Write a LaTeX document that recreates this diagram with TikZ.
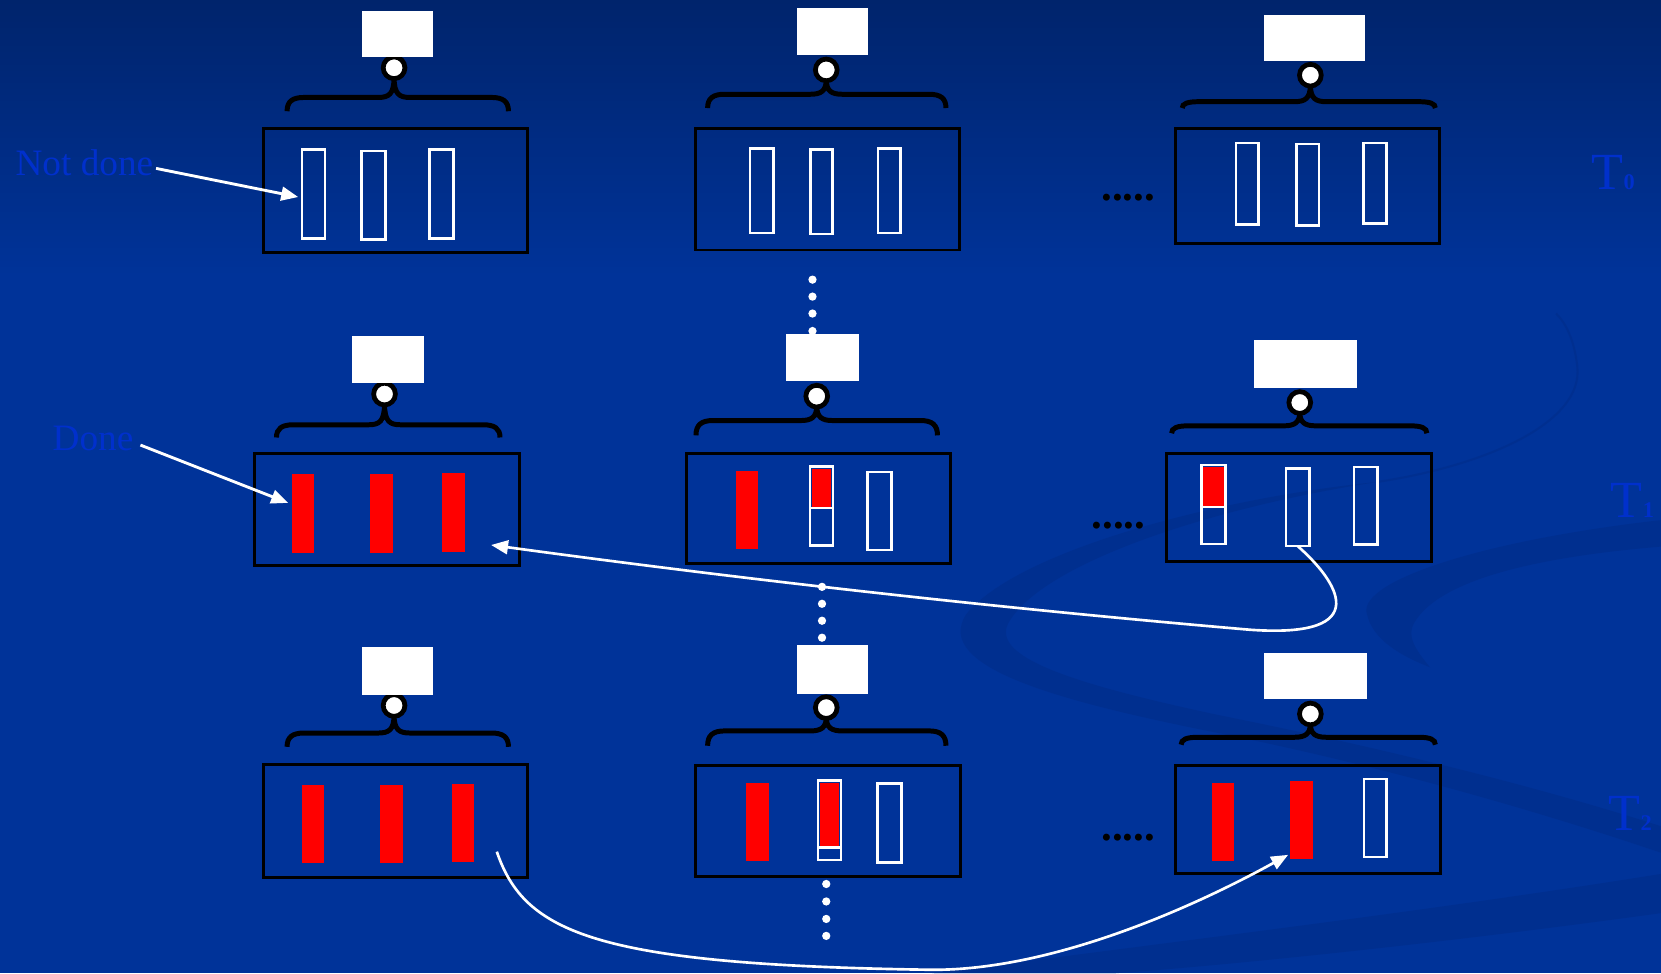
\documentclass[tikz,border=0pt]{standalone}
\usepackage{fontspec}
\setmainfont{Liberation Serif}
\usetikzlibrary{fit,arrows.meta}
\definecolor{bgblue}{RGB}{0,51,153}
\definecolor{bgtop}{RGB}{0,36,108}
\definecolor{swirlc}{RGB}{0,44,136}
\definecolor{labelblue}{RGB}{0,48,204}

% curly brace under a tag: left x, right x, cusp x, bar y, end drop, ring y
\newcommand\brc[6]{%
  \draw[brc] (#1,#4+#5) .. controls (#1,#4+0.3*#5) and (#1+5,#4) .. (#1+16,#4)
    -- (#3-15,#4) .. controls (#3-5,#4) and (#3,#4-3) .. (#3,#6+9)
    .. controls (#3,#4-3) and (#3+5,#4) .. (#3+15,#4)
    -- (#2-16,#4) .. controls (#2-5,#4) and (#2,#4+0.3*#5) .. (#2,#4+#5);}

% partly finished slot: name, x1, y1, x2, y2, level of the red part
\newcommand\halfslot[6]{%
  \node[slot, fit={(#2,#3) (#4,#5)}] (#1) {};
  \fill[red] (#2+2,#3+2) rectangle (#4-2,#6-1);
  \draw[white, line width=0.024cm] (#2,#6) -- (#4,#6);}

\begin{document}
\begin{tikzpicture}[x=0.01cm,y=-0.01cm,
  box/.style={draw=black,line width=0.028cm,inner sep=0pt,outer sep=0pt},
  slot/.style={draw=white,line width=0.024cm,inner sep=0pt,outer sep=0pt},
  done/.style={fill=red,inner sep=0pt,outer sep=0pt},
  tag/.style={fill=white,inner sep=0pt},
  ring/.style={circle,draw=black,fill=white,line width=0.045cm,minimum size=0.205cm,inner sep=0pt},
  brc/.style={draw=black,line width=0.047cm},
  dot/.style={circle,fill=white,inner sep=0pt,minimum size=0.078cm},
  conn/.style={draw=white,line width=0.027cm,-{Triangle[length=0.16cm,width=0.13cm]}},
  ell/.style={font=\fontsize{11.5}{13}\selectfont\bfseries,text=black,anchor=base,inner sep=0pt},
  note/.style={font=\fontsize{10}{12}\selectfont,text=labelblue,anchor=base west,inner sep=0pt},
  tlab/.style={font=\fontsize{14}{16}\selectfont,text=labelblue,anchor=base west,inner sep=0pt},
  swirl/.style={fill=swirlc,opacity=0.55}]

% background
\fill[bgblue] (0,0) rectangle (1568,919);
\shade[top color=bgtop,bottom color=bgblue] (0,0) rectangle (1568,260);
\useasboundingbox (0,0) rectangle (1568,919);

% faint swirls of the backdrop
\fill[swirl] (1300,455) .. controls (1150,470) and (960,520) .. (912,580)
  .. controls (880,630) and (1000,662) .. (1150,692)
  .. controls (1300,722) and (1450,765) .. (1568,805) -- (1568,780)
  .. controls (1450,742) and (1300,705) .. (1150,675)
  .. controls (1010,645) and (935,620) .. (952,588)
  .. controls (985,530) and (1150,478) .. (1300,455) -- cycle;
\draw[swirlc, opacity=0.5, line width=0.02cm] (1300,455)
  .. controls (1400,440) and (1495,400) .. (1489,346)
  .. controls (1486,320) and (1478,305) .. (1469,296);
\fill[swirl] (1568,491) .. controls (1400,510) and (1285,548) .. (1290,578)
  .. controls (1295,605) and (1325,620) .. (1350,630)
  .. controls (1335,612) and (1328,600) .. (1335,588)
  .. controls (1360,545) and (1460,525) .. (1568,516) -- cycle;
\fill[swirl] (880,919) .. controls (1100,890) and (1350,860) .. (1568,825)
  -- (1568,862) .. controls (1350,892) and (1150,912) .. (1050,919) -- cycle;

% vertical ellipses between the rows
\foreach \k/\yy in {1/264,2/280,3/296,4/312.5} \node[dot] (da\k) at (767,\yy) {};
\foreach \k/\yy in {1/554,2/570,3/586,4/602} \node[dot] (db\k) at (776,\yy) {};
\foreach \k/\yy in {1/834.5,2/851,3/867.5,4/883.5} \node[dot] (dc\k) at (780,\yy) {};

% ---------- row T0 ----------
\node[box, fit={(249,121) (498,238)}] (bxA1) {};
\node[slot, fit={(285,141) (307,225)}] (sA11) {};
\node[slot, fit={(341.5,142.5) (364,226)}] (sA12) {};
\node[slot, fit={(405.5,141) (428,225)}] (sA13) {};
\brc{271}{480}{372}{92}{13}{64}
\node[ring] (rA1) at (372,64) {};
\node[tag, fit={(342,10) (409,54)}] (tA1) {};

\node[box, fit={(657,121) (906,236)}] (bxB1) {};
\node[slot, fit={(708,140) (730,220)}] (sB11) {};
\node[slot, fit={(765,141) (786,221)}] (sB12) {};
\node[slot, fit={(829,140) (850,220)}] (sB13) {};
\brc{668}{893}{780}{89}{13}{66}
\node[ring] (rB1) at (780,66) {};
\node[tag, fit={(752,8) (819,52)}] (tB1) {};

\node[box, fit={(1110,121) (1359,230)}] (bxC1) {};
\node[slot, fit={(1167,135) (1188,212)}] (sC11) {};
\node[slot, fit={(1224,136) (1245,213)}] (sC12) {};
\node[slot, fit={(1287,135) (1309,211)}] (sC13) {};
\brc{1116}{1355}{1237}{96}{6}{71}
\node[ring] (rC1) at (1237,71) {};
\node[tag, fit={(1193,14) (1289,58)}] (tC1) {};

% ---------- row T1 ----------
\node[box, fit={(240,428) (490,534)}] (bxA2) {};
\node[done, fit={(276,447.5) (296,522)}] (sA21) {};
\node[done, fit={(349.5,447.5) (371,522)}] (sA22) {};
\node[done, fit={(417.5,446.5) (439,521)}] (sA23) {};
\brc{261}{472}{363}{401}{12}{372}
\node[ring] (rA2) at (363,372) {};
\node[tag, fit={(332,317) (400,362)}] (tA2) {};

\node[box, fit={(648,428.5) (897.5,532)}] (bxB2) {};
\node[done, fit={(695,444.5) (715.5,518)}] (sB21) {};
\halfslot{sB22}{764.5}{440.5}{786.5}{515}{479.5}
\node[slot, fit={(819,445.5) (841.5,519)}] (sB23) {};
\brc{657}{885}{771}{397}{14}{374}
\node[ring] (rB2) at (771,374) {};
\node[tag, fit={(742,315) (811,360)}] (tB2) {};

\node[box, fit={(1101,428.5) (1351,530.5)}] (bxC2) {};
\halfslot{sC21}{1134}{439}{1157}{513.5}{478.5}
\node[slot, fit={(1214,442.5) (1236,515.5)}] (sC22) {};
\node[slot, fit={(1278,441) (1300.5,514)}] (sC23) {};
\brc{1106}{1347}{1227}{402}{7}{380}
\node[ring] (rC2) at (1227,380) {};
\node[tag, fit={(1184,321) (1281,366)}] (tC2) {};

% ---------- row T2 ----------
\node[box, fit={(249,722) (498,828)}] (bxA3) {};
\node[done, fit={(285,741) (306,815)}] (sA31) {};
\node[done, fit={(359,741) (380,815)}] (sA32) {};
\node[done, fit={(427,740) (447,814)}] (sA33) {};
\brc{271}{480}{372}{692}{13}{666}
\node[ring] (rA3) at (372,666) {};
\node[tag, fit={(342,611) (409,656)}] (tA3) {};

\node[box, fit={(657,722.5) (907,827.5)}] (bxB3) {};
\node[done, fit={(704.5,739.5) (726,812.5)}] (sB31) {};
\halfslot{sB32}{772}{737}{794}{812}{800}
\node[slot, fit={(828.5,739.5) (851,814)}] (sB33) {};
\brc{668}{893}{780}{690}{14}{668}
\node[ring] (rB3) at (780,668) {};
\node[tag, fit={(752,609) (819,655)}] (tB3) {};

\node[box, fit={(1110,722.5) (1360,825)}] (bxC3) {};
\node[done, fit={(1144,739) (1165,813)}] (sC31) {};
\node[done, fit={(1218,737) (1239.5,810.5)}] (sC32) {};
\node[slot, fit={(1287.5,735.5) (1309,809)}] (sC33) {};
\brc{1115}{1355}{1237}{696}{7}{674}
\node[ring] (rC3) at (1237,674) {};
\node[tag, fit={(1193,616) (1290,660)}] (tC3) {};

% horizontal ellipses before the last column
\node[ell] (e1) at (1065,189.5) {.....};
\node[ell] (e2) at (1056,499) {.....};
\node[ell] (e3) at (1065,793) {.....};

% legend and time labels
\node[note] (nd) at (14,166) {Not done};
\node[note] (dn) at (49,425) {Done};
\node[tlab] (T0) at (1502,179) {T{\fontsize{6}{7}\selectfont\bfseries 0}};
\node[tlab] (T1) at (1520,489) {T{\fontsize{6}{7}\selectfont\bfseries 1}};
\node[tlab] (T2) at (1518,784) {T{\fontsize{6}{7}\selectfont\bfseries 2}};

% connectors
\draw[conn] ([xshift=0.02cm,yshift=-0.05cm]nd.east) -- ([xshift=-0.035cm,yshift=-0.03cm]sA11.west);
\draw[conn] ([xshift=0.06cm,yshift=-0.065cm]dn.east) -- ([xshift=-0.04cm,yshift=0.1cm]sA21.west);
\draw[conn, line width=0.025cm] (sC22.south) .. controls (1262,548) and (1300,603) .. (1180,594.5)
  .. controls (941,574) and (702,547) .. ([xshift=-0.264cm,yshift=0.195cm]bxA2.south east);
\draw[conn, line width=0.025cm] ([xshift=-0.29cm,yshift=0.24cm]bxA3.south east)
  .. controls (495,880) and (560,911) .. (880,915.5)
  .. controls (990,916) and (1120,860) .. ([xshift=-0.02cm,yshift=0.035cm]sC32.south west);
\end{tikzpicture}
\end{document}
